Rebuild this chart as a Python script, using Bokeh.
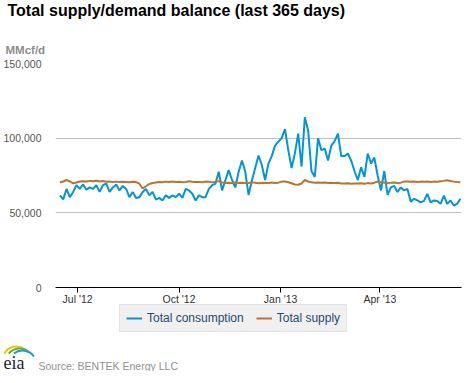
import math
import pandas as pd
from datetime import datetime
from bokeh.plotting import figure
from bokeh.models import (Range1d, FixedTicker, DatetimeTickFormatter, NumeralTickFormatter,
                          Legend, LegendItem, Label, ColumnDataSource)
from bokeh.layouts import column
from bokeh.embed import file_html
from bokeh.resources import INLINE

# ---- data (MMcf/d), one reading every 3 days starting 2012-06-15 ----
start_date = "2012-06-15"
step = "3D"

consumption = [
    61700, 59000, 66000, 60500, 64000, 68500, 66000, 69000, 65500, 67000,
    66000, 68500, 64000, 68500, 69600, 64000, 67000, 69000, 65000, 68000,
    66000, 60500, 64000, 60000, 60500, 64000, 66000, 61700, 64000, 58800,
    60000, 58300, 61700, 60000, 61700, 60500, 62800, 60000, 66000, 65000,
    62800, 58300, 61700, 60500, 60500, 66000, 68500, 69600, 77500, 65000,
    72000, 78600, 72000, 67000, 77500, 85000, 77500, 62000, 71600, 80000,
    88400, 82000,
    72000, 83000, 88000, 95000, 97700, 100000, 106000, 92000, 80000, 90000,
    103000, 81000, 114000, 105000, 78000, 74000, 100000, 92000, 93000, 85000,
    95000, 98000, 103000, 88000, 88000, 89700, 85000, 78000, 72000, 80500,
    74000, 89700, 83000, 87000, 75000, 65000, 78000, 62000, 67000, 68000,
    64000, 67000, 65000, 66000, 57500, 59400, 58300, 57000, 58000, 62700,
    57000, 58300, 58000, 56000, 61600, 56000, 58300, 54900, 56000, 59400,
]

supply = [
    70500, 71000, 72000, 71000, 69800, 70300, 71000, 71200, 71000, 71400,
    71200, 71500, 71000, 71300, 70800, 71000, 70700, 70900, 70600, 70800,
    70700, 70500, 70800, 70600, 69500, 66300, 67800, 69300, 70000, 70300,
    70600, 70500, 70900, 70700, 71000, 70600, 70800, 70500, 70700, 71200,
    70800, 70600, 70700, 70500, 70900, 70800, 70400, 70900, 71200, 70400,
    69900, 70100, 69800, 70300, 70000, 70200, 69900, 70000, 70400, 70100,
    69800, 70000, 70100, 69900, 70300, 70000, 70200, 70900, 71000, 70500,
    69800, 69000, 68800, 69600, 72000, 71000, 70400, 70200, 70300, 70100,
    70300, 70000, 70200, 69900, 70100, 69700, 69600, 69800, 69500, 69700,
    69600, 69800, 69500, 69900, 69700, 70200, 71000, 70400, 70200, 70000,
    70100, 70300, 70000, 70200, 70900, 71000, 70800, 71000, 70700, 70900,
    70800, 71000, 70700, 70900, 70800, 71100, 71400, 71800, 71300, 70900,
    70600, 70400,
]

x_tick_dates = ["2012-07-01", "2012-10-01", "2013-01-01", "2013-04-01"]
y_ticks = [0, 50000, 100000, 150000]
series_names = ["Total consumption", "Total supply"]
series_colors = ["#0096d7", "#bd732a"]

dates = pd.date_range(start_date, periods=len(consumption), freq=step)
source = ColumnDataSource(dict(date=dates, consumption=consumption, supply=supply))

FONT = "Liberation Sans"
W, H = 462, 375

# ---------------- main chart ----------------
p = figure(width=W, height=H, x_axis_type="datetime",
           output_backend="svg", toolbar_location=None,
           x_range=Range1d(datetime(2012, 6, 11), datetime(2013, 6, 14)),
           y_range=Range1d(0, 150000),
           min_border_left=52, min_border_right=1,
           min_border_top=63, min_border_bottom=H - 287)
p.frame_align = False
p.outline_line_color = None

r1 = p.line("date", "consumption", source=source, line_color=series_colors[0], line_width=2)
r2 = p.line("date", "supply", source=source, line_color=series_colors[1], line_width=2)

p.xgrid.visible = False
p.ygrid.grid_line_color = "#c0c0c0"
p.ygrid.grid_line_width = 1

yax = p.yaxis[0]
yax.ticker = FixedTicker(ticks=y_ticks)
yax.formatter = NumeralTickFormatter(format="0,0")
yax.axis_line_color = None
yax.major_tick_line_color = None
yax.minor_tick_line_color = None
yax.major_label_standoff = 8
yax.major_label_text_font = FONT
yax.major_label_text_font_size = "10.5px"
yax.major_label_text_color = "#555555"

xax = p.xaxis[0]
xax.ticker = FixedTicker(ticks=[pd.Timestamp(d).value // 10**6 for d in x_tick_dates])
fmt = "%b '%y"
xax.formatter = DatetimeTickFormatter(milliseconds=fmt, seconds=fmt, minsec=fmt, minutes=fmt,
                                      hourmin=fmt, hours=fmt, days=fmt, months=fmt, years=fmt)
xax.axis_line_color = "black"
xax.axis_line_width = 1
xax.major_tick_line_color = "black"
xax.major_tick_out = 5
xax.major_tick_in = 0
xax.minor_tick_line_color = None
xax.major_label_standoff = 0
xax.major_label_text_font = FONT
xax.major_label_text_font_size = "10.5px"
xax.major_label_text_color = "#333333"

# ---------------- overlay: titles, legend, footer ----------------
o = figure(width=W, height=H, output_backend="svg", toolbar_location=None,
           x_range=Range1d(0, W), y_range=Range1d(0, H),
           x_axis_location=None, y_axis_location=None,
           min_border=0, min_border_left=0, min_border_right=0,
           min_border_top=0, min_border_bottom=0,
           styles={"margin-top": f"-{H + 4}px"})
o.frame_align = False
o.outline_line_color = None
o.background_fill_alpha = 0
o.border_fill_alpha = 0
o.xgrid.visible = False
o.ygrid.visible = False


def Y(py):
    # convert a pixel row (from top) to the overlay's bottom-up coordinate
    return H - py


o.add_layout(Label(x=7, y=Y(14), text="Total supply/demand balance (last 365 days)",
                   text_font=FONT, text_font_style="bold", text_font_size="16px",
                   text_color="black", text_baseline="alphabetic"))
o.add_layout(Label(x=5, y=Y(53), text="MMcf/d",
                   text_font=FONT, text_font_style="bold", text_font_size="11.5px",
                   text_color="#8c8c8c", text_baseline="alphabetic"))
o.add_layout(Label(x=38, y=Y(369), text="Source: BENTEK Energy LLC",
                   text_font=FONT, text_font_size="10.5px",
                   text_color="#909090", text_baseline="alphabetic"))

# eia logo
o.arc(x=[16], y=[Y(364)], radius=14, start_angle=math.radians(55), end_angle=math.radians(150),
      line_color="#f2c200", line_width=2)
o.arc(x=[19], y=[Y(366)], radius=14, start_angle=math.radians(45), end_angle=math.radians(140),
      line_color="#6ab023", line_width=2)
o.arc(x=[22], y=[Y(368)], radius=14, start_angle=math.radians(35), end_angle=math.radians(128),
      line_color="#1a9ad6", line_width=2)
o.add_layout(Label(x=3, y=Y(366), text="eia",
                   text_font="Liberation Serif", text_font_size="18px",
                   text_color="#1c2333", text_baseline="alphabetic"))

# legend (glyph samples styled like the main series; they carry no visible data)
nan = float("nan")
l1 = o.line(x=[nan], y=[nan], line_color=series_colors[0], line_width=2)
l2 = o.line(x=[nan], y=[nan], line_color=series_colors[1], line_width=2)
legend = Legend(items=[LegendItem(label=series_names[0], renderers=[l1]),
                       LegendItem(label=series_names[1], renderers=[l2])],
                orientation="horizontal", location=(119, Y(336)))
legend.background_fill_color = "#f0f0f0"
legend.background_fill_alpha = 1
legend.border_line_color = "#d8d8d8"
legend.label_text_font = FONT
legend.label_text_font_size = "12px"
legend.label_text_color = "#274b6d"
legend.glyph_width = 16
legend.glyph_height = 12
legend.label_height = 12
legend.label_standoff = 5
legend.spacing = 12
legend.padding = 6
legend.margin = 0
o.add_layout(legend)

layout = column(p, o)

open("out.html", "w").write(file_html(layout, INLINE))
